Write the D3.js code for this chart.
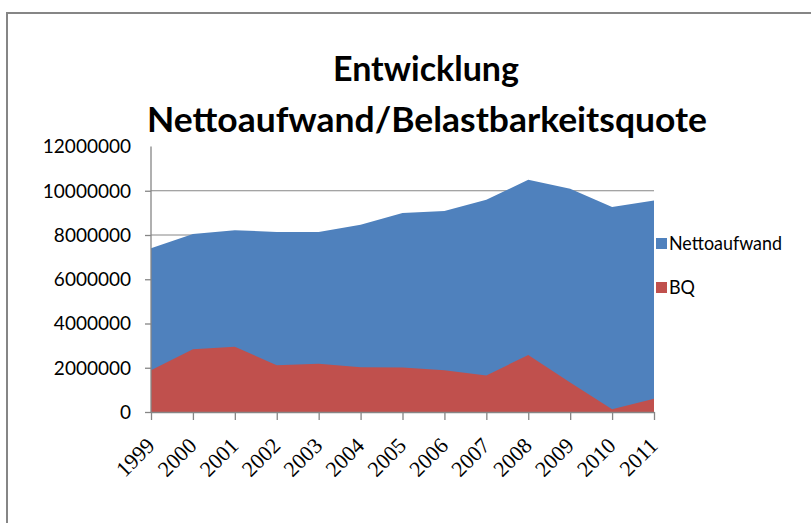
<!DOCTYPE html>
<html><head><meta charset="utf-8">
<script src="https://cdn.jsdelivr.net/npm/d3@7"></script>
<style>body{margin:0;background:#fff}svg{display:block}</style>
</head><body>
<svg id="c" width="811" height="523"></svg>
<script>
const years = ["1999","2000","2001","2002","2003","2004","2005","2006","2007","2008","2009","2010","2011"];
const nettoaufwand = [7400000,8050000,8220000,8140000,8140000,8460000,8990000,9080000,9590000,10500000,10090000,9270000,9560000];
const bq = [1890000,2840000,2950000,2110000,2180000,2020000,2010000,1890000,1650000,2580000,1330000,120000,600000];
const yTicks = [0,2000000,4000000,6000000,8000000,10000000,12000000];
const titleLines = ["Entwicklung","Nettoaufwand/Belastbarkeitsquote"];
const seriesNames = ["Nettoaufwand","BQ"];
const colors = ["#4F81BD","#C0504D"];

const svg = d3.select("#c");
const grey = "#868686";

// outer chart border (top and left visible)
svg.append("rect").attr("x",7).attr("y",13).attr("width",830).attr("height",540)
  .attr("fill","none").attr("stroke",grey).attr("stroke-width",2);

const x = d3.scalePoint().domain(years).range([151,654]);
const y = d3.scaleLinear().domain([0,12000000]).range([412,146.5]);

svg.append("g").selectAll("line").data(yTicks.filter(v=>v>0 && v<12000000)).join("line")
  .attr("x1",151).attr("x2",654).attr("y1",d=>y(d)).attr("y2",d=>y(d))
  .attr("stroke",grey).attr("stroke-width",1);

const area = vals => d3.area().x((d,i)=>x(years[i])).y0(y(0)).y1(d=>y(d))(vals);
svg.append("path").attr("d",area(nettoaufwand)).attr("fill",colors[0]);
svg.append("path").attr("d",area(bq)).attr("fill",colors[1]);

const yAxis = svg.append("g").attr("transform","translate(151,0)")
  .call(d3.axisLeft(y).tickValues(yTicks.filter(v=>v<12000000)).tickSize(6).tickFormat(d3.format("d")));
yAxis.selectAll(".tick text").remove();
yAxis.select(".domain").attr("d","M0,146.5V412");
yAxis.selectAll("path,line").attr("stroke",grey).attr("stroke-width",1.3);
svg.append("g").selectAll("text").data(yTicks).join("text")
  .attr("x",131).attr("y",d=>y(d)).attr("dy","0.36em").attr("text-anchor","end")
  .attr("font-family","Lato, sans-serif").attr("font-size",19).attr("fill","#000")
  .text(d=>d3.format("d")(d));

const xAxis = svg.append("g").attr("transform","translate(0,412)")
  .call(d3.axisBottom(x).tickSize(8).tickSizeOuter(0));
xAxis.selectAll(".tick text").remove();
xAxis.selectAll("path,line").attr("stroke",grey).attr("stroke-width",1.3);
svg.append("g").selectAll("text").data(years).join("text")
  .attr("transform",d=>`translate(${x(d)+5},447) rotate(-45)`)
  .attr("text-anchor","end")
  .attr("font-family","'Liberation Serif', serif").attr("font-size",22).attr("fill","#000")
  .text(d=>d);

const tl = svg.append("g").attr("font-family","Lato, sans-serif").attr("font-weight","bold")
  .attr("font-size",35).attr("fill","#000").attr("text-anchor","middle");
tl.append("text").attr("x",426).attr("y",81).attr("textLength",186).attr("lengthAdjust","spacingAndGlyphs").text(titleLines[0]);
tl.append("text").attr("x",427).attr("y",132).attr("textLength",560).attr("lengthAdjust","spacingAndGlyphs").text(titleLines[1]);

const lg = svg.append("g");
const ly = [243,287];
lg.selectAll("rect").data(seriesNames).join("rect")
  .attr("x",656).attr("y",(d,i)=>ly[i]-5).attr("width",11).attr("height",11).attr("fill",(d,i)=>colors[i]);
lg.selectAll("text").data(seriesNames).join("text")
  .attr("x",669).attr("y",(d,i)=>ly[i]).attr("dy","0.36em")
  .attr("font-family","Lato, sans-serif").attr("font-size",19).attr("fill","#000")
  .attr("textLength",(d,i)=>i===0?113:26).attr("lengthAdjust","spacingAndGlyphs")
  .text(d=>d);
</script>
</body></html>
